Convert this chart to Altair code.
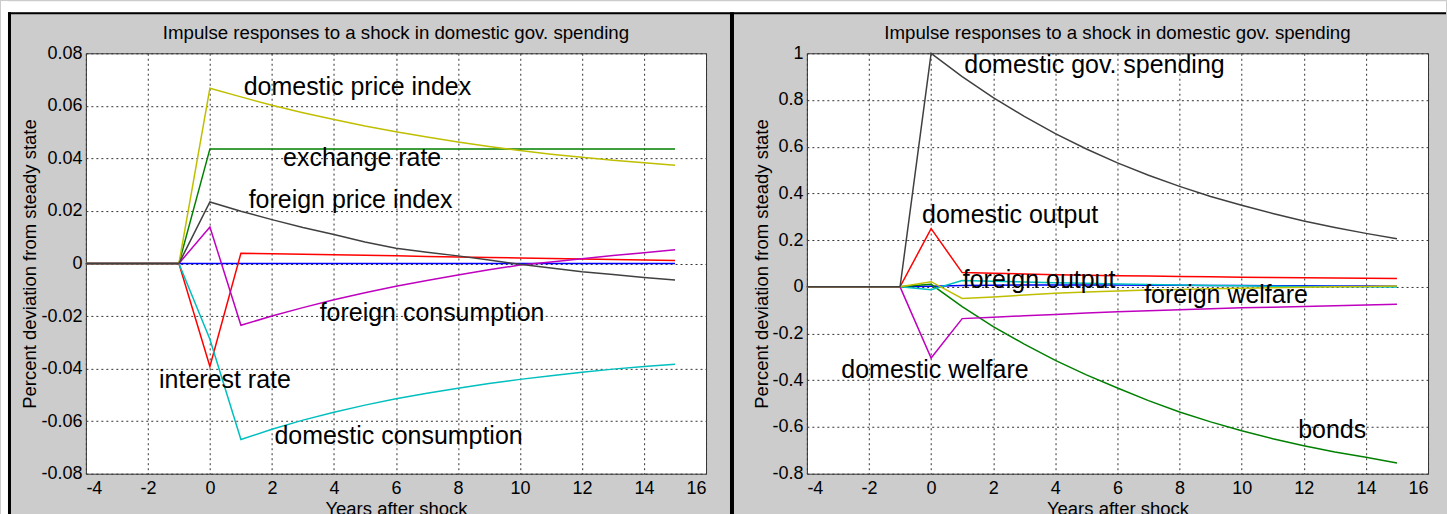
import altair as alt
import pandas as pd

FONT = "Liberation Sans"
TITLE = "Impulse responses to a shock in domestic gov. spending"

years = [-4, -3, -2, -1, 0, 1, 2, 3, 4, 5, 6, 7, 8, 9, 10, 11, 12, 13, 14, 15]
x_ticks = [-4, -2, 0, 2, 4, 6, 8, 10, 12, 14, 16]

# ---- panel 1: prices, rates, consumption ----
output_home = [0, 0, 0, 0, 0, 0, 0, 0, 0, 0, 0, 0, 0, 0, 0, 0, 0, 0, 0, 0]
exchange_rate = [0, 0, 0, 0, 0.0436, 0.0436, 0.0436, 0.0436, 0.0436, 0.0436, 0.0436, 0.0436,
                 0.0436, 0.0436, 0.0436, 0.0436, 0.0436, 0.0436, 0.0436, 0.0436]
interest_rate = [0, 0, 0, 0, -0.0392, 0.0039, 0.0037, 0.0035, 0.0033, 0.0031, 0.0029, 0.0027,
                 0.0025, 0.0023, 0.0021, 0.0019, 0.0017, 0.0015, 0.0013, 0.0011]
domestic_consumption = [0, 0, 0, 0, -0.0288, -0.0670, -0.0631, -0.0596, -0.0566, -0.0539, -0.0515,
                        -0.0494, -0.0475, -0.0457, -0.0441, -0.0427, -0.0414, -0.0402, -0.0392, -0.0383]
foreign_consumption = [0, 0, 0, 0, 0.0139, -0.0235, -0.0200, -0.0168, -0.0138, -0.0111, -0.0087,
                       -0.0065, -0.0044, -0.0024, -0.0006, 0.0006, 0.0018, 0.0030, 0.0041, 0.0052]
domestic_price_index = [0, 0, 0, 0, 0.0667, 0.0634, 0.0602, 0.0574, 0.0548, 0.0523, 0.0501, 0.0481,
                        0.0462, 0.0445, 0.0430, 0.0416, 0.0404, 0.0393, 0.0383, 0.0374]
foreign_price_index = [0, 0, 0, 0, 0.0234, 0.0199, 0.0167, 0.0137, 0.0110, 0.0082, 0.0058, 0.0043,
                       0.0029, 0.0013, -0.0003, -0.0017, -0.0031, -0.0042, -0.0053, -0.0063]

y1_ticks = [-0.08, -0.06, -0.04, -0.02, 0, 0.02, 0.04, 0.06, 0.08]
labels1 = ["domestic price index", "exchange rate", "foreign price index",
           "foreign consumption", "interest rate", "domestic consumption"]
labels1_x = [1.09, 2.36, 1.25, 3.54, -1.64, 2.08]
labels1_y = [0.0640, 0.0371, 0.0211, -0.0219, -0.0472, -0.0687]

# ---- panel 2: spending, output, welfare, bonds ----
output_other = [0, 0, 0, 0, 0.003, 0.006, 0.007, 0.008, 0.008, 0.008, 0.008, 0.007, 0.007, 0.006,
                0.006, 0.005, 0.005, 0.004, 0.004, 0.003]
bonds = [0, 0, 0, 0, 0.011, -0.085, -0.170, -0.245, -0.315, -0.377, -0.433, -0.487, -0.536,
         -0.578, -0.616, -0.650, -0.680, -0.707, -0.730, -0.754]
domestic_output = [0, 0, 0, 0, 0.249, 0.061, 0.058, 0.055, 0.052, 0.050, 0.048, 0.046, 0.044,
                   0.043, 0.041, 0.040, 0.039, 0.038, 0.037, 0.036]
foreign_output = [0, 0, 0, 0, -0.012, 0.027, 0.024, 0.021, 0.018, 0.015, 0.012, 0.010, 0.008,
                  0.006, 0.005, 0.003, 0.002, 0.001, 0.000, -0.001]
domestic_welfare = [0, 0, 0, 0, -0.305, -0.136, -0.130, -0.124, -0.118, -0.112, -0.107, -0.102,
                    -0.098, -0.094, -0.090, -0.087, -0.084, -0.081, -0.078, -0.075]
foreign_welfare = [0, 0, 0, 0, 0.022, -0.050, -0.043, -0.035, -0.027, -0.022, -0.018, -0.014,
                   -0.011, -0.008, -0.006, -0.004, -0.002, 0.000, 0.002, 0.004]
gov_spending = [0, 0, 0, 0, 1.0, 0.9, 0.81, 0.73, 0.656, 0.59, 0.531, 0.478, 0.43, 0.387,
                0.349, 0.314, 0.282, 0.254, 0.229, 0.206]

y2_ticks = [-0.8, -0.6, -0.4, -0.2, 0, 0.2, 0.4, 0.6, 0.8, 1]
labels2 = ["domestic gov. spending", "domestic output", "foreign output",
           "foreign welfare", "domestic welfare", "bonds"]
labels2_x = [1.07, -0.29, 1.02, 6.86, -2.89, 11.82]
labels2_y = [0.915, 0.274, -0.006, -0.070, -0.391, -0.647]

# classic colour order, drawn in this order (last on top)
BLUE, GREEN, RED, CYAN = "#0000ff", "#008000", "#ff0000", "#00bfbf"
MAGENTA, YELLOW, DARK = "#bf00bf", "#bfbf00", "#404040"

series1 = [("output_home", output_home, BLUE), ("exchange_rate", exchange_rate, GREEN),
           ("interest_rate", interest_rate, RED), ("domestic_consumption", domestic_consumption, CYAN),
           ("foreign_consumption", foreign_consumption, MAGENTA),
           ("domestic_price_index", domestic_price_index, YELLOW),
           ("foreign_price_index", foreign_price_index, DARK)]
series2 = [("output_other", output_other, BLUE), ("bonds", bonds, GREEN),
           ("domestic_output", domestic_output, RED), ("foreign_output", foreign_output, CYAN),
           ("domestic_welfare", domestic_welfare, MAGENTA), ("foreign_welfare", foreign_welfare, YELLOW),
           ("gov_spending", gov_spending, DARK)]

W1, W2, H = 621, 622, 421
one = pd.DataFrame({"k": [0]})


def panel(series, y_domain, y_ticks, labels, lx, ly, title_x, width, frame=None):
    long = pd.DataFrame([
        {"year": yr, "series": name, "value": v}
        for name, vals, _ in series for yr, v in zip(years, vals)
    ])
    xs = alt.X("year:Q", scale=alt.Scale(domain=[-4, 16], nice=False, zero=False),
               axis=alt.Axis(values=x_ticks, title="Years after shock", labelExpr="toString(datum.value)",
                             labelBaseline="top", labelPadding=6, titleY=41,
                             titleBaseline="alphabetic"))
    ys = alt.Y("value:Q", scale=alt.Scale(domain=y_domain, nice=False, zero=False),
               axis=alt.Axis(values=y_ticks, title="Percent deviation from steady state",
                             labelExpr="toString(datum.value)", labelPadding=4,
                             titleX=title_x, titleY=H / 2, titleBaseline="middle"))
    layers = []
    if frame is not None:
        layers.extend(frame)
    for name, _, color in series:
        layers.append(
            alt.Chart(long).transform_filter(alt.datum.series == name)
            .mark_line(color=color, strokeWidth=1.5)
            .encode(x=xs, y=ys)
        )
    ann = pd.DataFrame({"label": labels, "year": lx, "value": ly})
    layers.append(
        alt.Chart(ann).mark_text(align="left", baseline="alphabetic", font=FONT,
                                 fontSize=25, color="black")
        .encode(x=xs, y=ys, text="label:N")
    )
    # panel heading, centred over the plot area
    layers.append(
        alt.Chart(one).mark_text(text=TITLE, align="center", baseline="alphabetic",
                                 font=FONT, fontSize=18.7, color="black")
        .encode(x=alt.value(width / 2), y=alt.value(-14))
    )
    return alt.layer(*layers).properties(width=width, height=H)


# figure framing: white margin strips and black border lines around the window
def strip(color, x0, x1, y0, y1):
    return alt.Chart(one).mark_rect(color=color).encode(
        x=alt.value(x0), x2=alt.value(x1), y=alt.value(y0), y2=alt.value(y1))


frame = [
    strip("white", -85, 1362, -52, -41),
    strip("white", -85, -78, -52, 462),
    strip("black", -78, 1362, -41, -39),
    strip("black", -78, -75, -41, 462),
    strip("black", 645, 649, -41, 462),
]

left = panel(series1, [-0.08, 0.08], y1_ticks, labels1, labels1_x, labels1_y, -56, W1, frame)
right = panel(series2, [-0.8, 1.0], y2_ticks, labels2, labels2_x, labels2_y, -45, W2)

chart = (
    alt.hconcat(left, right, spacing=101, bounds="flush")
    .properties(background="#cccccc", padding={"left": 0, "top": 0, "right": 0, "bottom": -4})
    .configure_view(fill="white", stroke="#333333", strokeWidth=1)
    .configure_axis(
        labelFont=FONT, labelFontSize=18, labelColor="black",
        titleFont=FONT, titleFontSize=18.5, titleFontWeight="normal", titleColor="black",
        domain=False, ticks=False, tickSize=0,
        grid=True, gridColor="#333333", gridDash=[2, 3], gridWidth=1, gridOpacity=1,
    )
)

chart.save("out.html", embed_options={"renderer": "svg", "actions": False})
